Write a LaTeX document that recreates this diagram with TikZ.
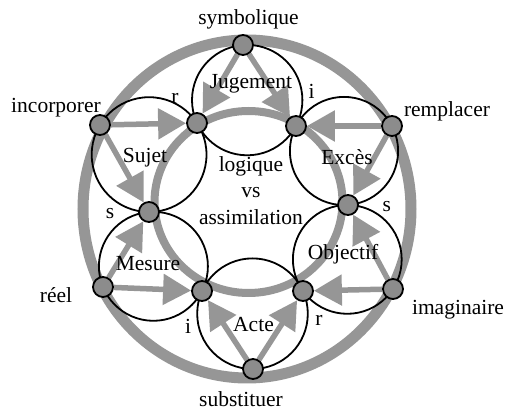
\documentclass[tikz,border=0pt]{standalone}
\usepackage{fontspec}
\setmainfont{Liberation Serif}
\usetikzlibrary{arrows.meta}
\pgfdeclarelayer{bg}
\pgfsetlayers{bg,main}
\definecolor{ringgray}{RGB}{150,150,150}
\definecolor{nodegray}{RGB}{140,140,140}
\begin{document}
\begin{tikzpicture}[x=1pt,y=-1pt,
  ring/.style={draw=ringgray, line width=11pt},
  inring/.style={draw=ringgray, line width=8pt},
  garrow/.style={draw=ringgray, line width=5.5pt, -{Triangle[length=28pt 0 0,width=30pt 0 0]}},
  lens/.style={draw=black, line width=1.8pt},
  pt/.style={circle, draw=black, fill=nodegray, line width=1.8pt, minimum size=20pt, inner sep=0pt},
  lbl/.style={font=\fontsize{21.5}{24}\selectfont, anchor=base, inner sep=0pt}]
\useasboundingbox (0,0) rectangle (507,414);
% outer points
\node[pt] (T) at (243,45) {};
\node[pt] (UL) at (100,125) {};
\node[pt] (UR) at (392,126) {};
\node[pt] (LL) at (103,287) {};
\node[pt] (LR) at (393,289) {};
\node[pt] (B) at (253,369) {};
% inner points
\node[pt] (a) at (197,123) {};
\node[pt] (b) at (296,126) {};
\node[pt] (c) at (348,205) {};
\node[pt] (d) at (303,291) {};
\node[pt] (e) at (202,291) {};
\node[pt] (f) at (149,212) {};
% centres
\coordinate (cJ) at (247.2,100.1);
\coordinate (cS) at (149.1,154.6);
\coordinate (cE) at (344,151);
\coordinate (cM) at (153.4,266.3);
\coordinate (cA) at (252.5,313.7);
\coordinate (cO) at (347.3,259.4);
\coordinate (cRing) at (247,209);
\coordinate (cIn) at (248.5,202);
\begin{pgfonlayer}{bg}
\draw[ring] (cRing) ellipse[x radius=164, y radius=169];
\draw[inring] (cIn) ellipse[x radius=94, y radius=91];
\draw[garrow] (T) -- (a);
\draw[garrow] (T) -- (b);
\draw[garrow] (UL) -- (a);
\draw[garrow] (UL) -- (f);
\draw[garrow] (UR) -- (b);
\draw[garrow] (UR) -- (c);
\draw[garrow] (LL) -- (f);
\draw[garrow] (LL) -- (e);
\draw[garrow] (B) -- (e);
\draw[garrow] (B) -- (d);
\draw[garrow] (LR) -- (c);
\draw[garrow] (LR) -- (d);
\draw[lens] (cJ) circle[radius=55.2];
\draw[lens] (cS) circle[radius=57.4];
\draw[lens] (cE) circle[radius=54.1];
\draw[lens] (cM) circle[radius=54.5];
\draw[lens] (cA) circle[radius=55.3];
\draw[lens] (cO) circle[radius=54.4];
\end{pgfonlayer}
% texts
\node[lbl] (tsym) at (248.5,25) {symbolique};
\node[lbl] (tinc) at (56,113) {incorporer};
\node[lbl] (trem) at (447,116.7) {remplacer};
\node[lbl] (treel) at (56,302.7) {réel};
\node[lbl] (tsub) at (241,407) {substituer};
\node[lbl] (timag) at (458,315) {imaginaire};
\node[lbl] (tjug) at (251,88.3) {Jugement};
\node[lbl] (tsuj) at (145,162.7) {Sujet};
\node[lbl] (texc) at (347,165) {Excès};
\node[lbl] (tmes) at (148,270.7) {Mesure};
\node[lbl] (tobj) at (343,260) {Objectif};
\node[lbl] (tacte) at (253.5,331.7) {Acte};
\node[lbl] (tlog) at (251,171.7) {logique};
\node[lbl] (tvs) at (251,198) {vs};
\node[lbl] (tass) at (251,225) {assimilation};
\node[lbl] (lr1) at (175,104) {r};
\node[lbl] (li1) at (311.7,98.3) {i};
\node[lbl] (ls1) at (110,219) {s};
\node[lbl] (ls2) at (386.7,212) {s};
\node[lbl] (li2) at (188,334) {i};
\node[lbl] (lr2) at (319,326) {r};
\end{tikzpicture}
\end{document}
